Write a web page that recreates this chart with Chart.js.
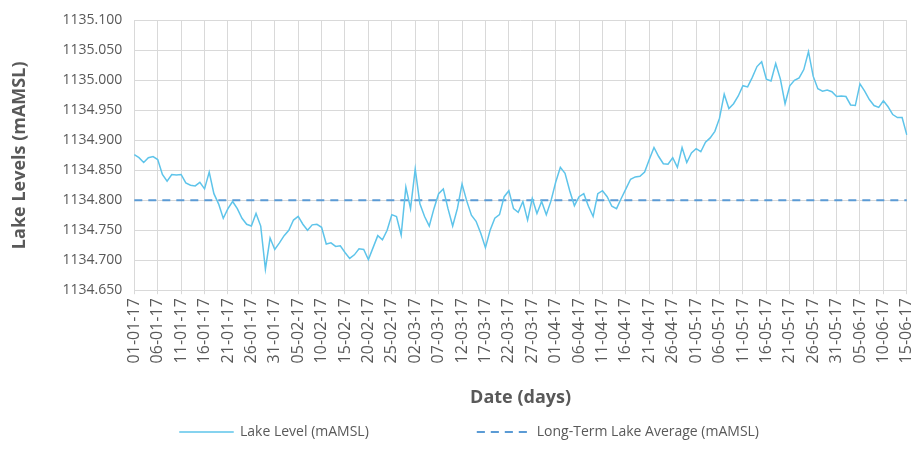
<!DOCTYPE html>
<html>
<head>
<meta charset="utf-8">
<script src="https://cdn.jsdelivr.net/npm/chart.js@4.4.0/dist/chart.umd.min.js"></script>
<style>
  html, body { margin: 0; padding: 0; background: #ffffff; }
  #frame { width: 911px; height: 467px; overflow: hidden; }
  /* a little wider than the frame so the last rotated label is cut off like the original */
  #wrap { width: 930px; height: 467px; }
</style>
</head>
<body>
<div id="frame"><div id="wrap"><canvas id="lakeChart"></canvas></div></div>
<script>
// daily lake level readings, 01-01-17 to 15-06-17 (mAMSL)
const lakeLevel = [
  1134.876, 1134.871, 1134.863, 1134.871, 1134.873, 1134.868, 1134.843, 1134.832, 1134.843, 1134.842,
  1134.843, 1134.829, 1134.825, 1134.824, 1134.830, 1134.819, 1134.847, 1134.811, 1134.794, 1134.770,
  1134.786, 1134.798, 1134.786, 1134.770, 1134.760, 1134.757, 1134.778, 1134.757, 1134.685, 1134.737,
  1134.718, 1134.729, 1134.741, 1134.750, 1134.767, 1134.773, 1134.760, 1134.750, 1134.759, 1134.760,
  1134.755, 1134.727, 1134.729, 1134.723, 1134.724, 1134.713, 1134.703, 1134.709, 1134.719, 1134.718,
  1134.701, 1134.721, 1134.741, 1134.734, 1134.750, 1134.776, 1134.773, 1134.742, 1134.822, 1134.786,
  1134.852, 1134.794, 1134.773, 1134.757, 1134.786, 1134.811, 1134.819, 1134.786, 1134.757, 1134.786,
  1134.827, 1134.799, 1134.775, 1134.765, 1134.745, 1134.721, 1134.750, 1134.770, 1134.776, 1134.806,
  1134.816, 1134.786, 1134.780, 1134.798, 1134.767, 1134.803, 1134.778, 1134.798, 1134.776, 1134.799,
  1134.830, 1134.855, 1134.845, 1134.816, 1134.791, 1134.806, 1134.811, 1134.790, 1134.773, 1134.811,
  1134.816, 1134.806, 1134.790, 1134.786, 1134.803, 1134.819, 1134.835, 1134.839, 1134.840, 1134.847,
  1134.868, 1134.888, 1134.873, 1134.861, 1134.860, 1134.871, 1134.855, 1134.888, 1134.863, 1134.879,
  1134.886, 1134.881, 1134.897, 1134.904, 1134.915, 1134.937, 1134.977, 1134.953, 1134.961, 1134.974,
  1134.991, 1134.989, 1135.005, 1135.023, 1135.031, 1135.002, 1134.999, 1135.028, 1135.002, 1134.961,
  1134.991, 1135.000, 1135.004, 1135.018, 1135.048, 1135.007, 1134.986, 1134.982, 1134.984, 1134.981,
  1134.973, 1134.974, 1134.973, 1134.959, 1134.958, 1134.994, 1134.982, 1134.968, 1134.958, 1134.955,
  1134.966, 1134.956, 1134.943, 1134.938, 1134.938, 1134.909
];
const longTermAverage = 1134.800;
const yMin = 1134.650, yMax = 1135.100, yStep = 0.050;

// one label per day, dd-mm-yy
const dates = [];
for (let i = 0; i < lakeLevel.length; i++) {
  const d = new Date(2017, 0, 1 + i);
  const dd = String(d.getDate()).padStart(2, '0');
  const mm = String(d.getMonth() + 1).padStart(2, '0');
  dates.push(dd + '-' + mm + '-17');
}
const averageLine = [
  { x: dates[0], y: longTermAverage },
  { x: dates[dates.length - 1], y: longTermAverage }
];

const textGrey = '#595959';
const gridGrey = '#d9d9d9';
const fontName = '"Open Sans", sans-serif';

new Chart(document.getElementById('lakeChart'), {
  type: 'line',
  data: {
    labels: dates,
    datasets: [{
      label: 'Lake Level (mAMSL)',
      data: lakeLevel,
      borderColor: '#5ec4ea',
      backgroundColor: '#5ec4ea',
      borderWidth: 1.5,
      pointRadius: 0,
      tension: 0
    }, {
      label: 'Long-Term Lake Average (mAMSL)',
      data: averageLine,
      borderColor: '#5b9bd5',
      backgroundColor: '#5b9bd5',
      borderWidth: 2,
      borderDash: [8, 6],
      pointRadius: 0
    }]
  },
  options: {
    responsive: true,
    maintainAspectRatio: false,
    animation: false,
    layout: { padding: { left: 9, right: 0, top: 6, bottom: 18 } },
    plugins: {
      tooltip: { enabled: false },
      legend: {
        position: 'bottom',
        labels: {
          color: textGrey,
          font: { family: fontName, size: 14 },
          boxWidth: 53,
          boxHeight: 0.1,
          padding: 10,
          generateLabels: function (chart) {
            const items = Chart.defaults.plugins.legend.labels.generateLabels(chart);
            // widen the gap after the first entry
            items[0].text += '\u2003'.repeat(7);
            return items;
          }
        }
      }
    },
    scales: {
      x: {
        grid: { color: gridGrey, tickLength: 4 },
        border: { color: gridGrey },
        ticks: {
          autoSkip: false,
          maxRotation: 90,
          minRotation: 90,
          padding: 4,
          color: textGrey,
          font: { family: fontName, size: 16 },
          callback: function (value, index) {
            return index % 5 === 0 ? this.getLabelForValue(value) : null;
          }
        },
        title: {
          display: true,
          text: 'Date (days)',
          color: textGrey,
          font: { family: fontName, size: 18, weight: 'bold' },
          padding: { top: 20, bottom: 6 }
        }
      },
      y: {
        min: yMin,
        max: yMax,
        grid: { color: gridGrey, drawTicks: false },
        border: { display: false },
        ticks: {
          stepSize: yStep,
          padding: 12,
          color: textGrey,
          font: { family: fontName, size: 14 },
          callback: v => v.toFixed(3)
        },
        title: {
          display: true,
          text: 'Lake Levels (mAMSL)',
          color: textGrey,
          font: { family: fontName, size: 18, weight: 'bold' },
          padding: { top: 0, bottom: 20 }
        }
      }
    }
  }
});
</script>
</body>
</html>
